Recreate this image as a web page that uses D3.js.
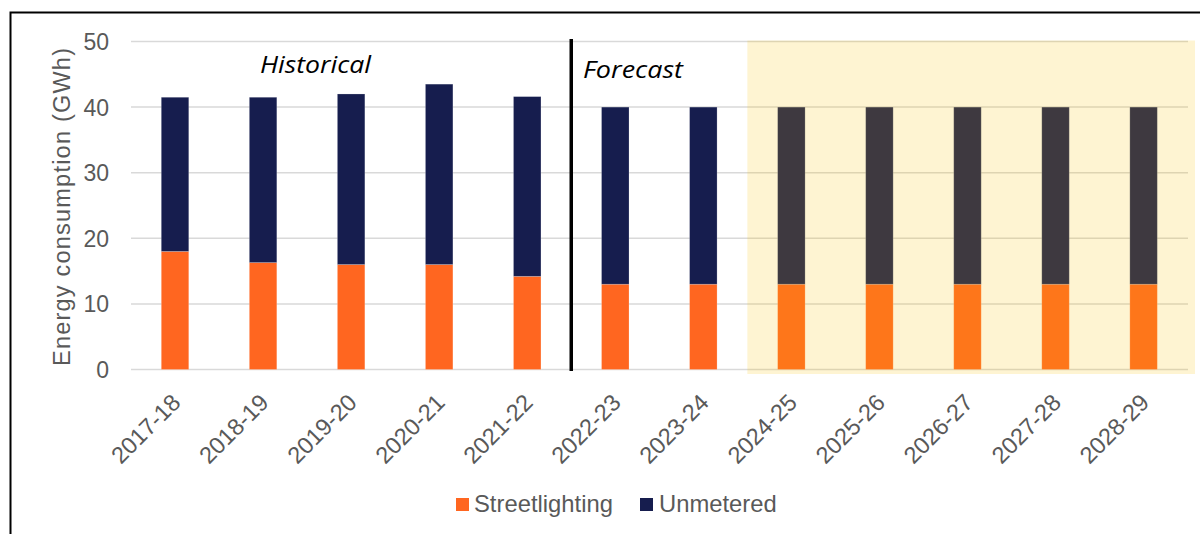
<!DOCTYPE html>
<html>
<head>
<meta charset="utf-8">
<script src="https://cdn.jsdelivr.net/npm/d3@7/dist/d3.min.js"></script>
<style>
  html, body { margin: 0; padding: 0; background: #fff; }
  svg { display: block; }
</style>
</head>
<body>
<svg id="chart" width="1200" height="534"></svg>
<script>
const categories = ["2017-18","2018-19","2019-20","2020-21","2021-22","2022-23","2023-24","2024-25","2025-26","2026-27","2027-28","2028-29"];
const streetlighting = [18.0, 16.3, 16.0, 16.0, 14.2, 13.0, 13.0, 13.0, 13.0, 13.0, 13.0, 13.0];
const unmetered      = [23.5, 25.2, 26.0, 27.5, 27.4, 27.0, 27.0, 27.0, 27.0, 27.0, 27.0, 27.0];
const yTicks = [0, 10, 20, 30, 40, 50];
const seriesNames = ["Streetlighting", "Unmetered"];
const seriesColors = ["#FF6620", "#161D4E"];
const historicalLabel = "Historical";
const forecastLabel = "Forecast";
const forecastStart = "2022-23";
const shadedStart = "2024-25";

const svg = d3.select("#chart");
const font = "'Liberation Sans', Arial, sans-serif";
const textGrey = "#595959";

// frame
svg.append("rect").attr("x", 10.5).attr("y", 12.5).attr("width", 1300).attr("height", 600)
  .attr("fill", "none").attr("stroke", "#000").attr("stroke-width", 2);

const x = d3.scaleBand().domain(categories).range([131, 1187.6]).paddingInner(0.688).paddingOuter(0.344);
const y = d3.scaleLinear().domain([0, 50]).range([369.5, 41.5]);

// gridlines
svg.append("g").selectAll("line").data(yTicks).join("line")
  .attr("x1", 131).attr("x2", 1188)
  .attr("y1", d => y(d)).attr("y2", d => y(d))
  .attr("stroke", "#D9D9D9").attr("stroke-width", 1.5);

// y axis labels
const yAxis = d3.axisLeft(y).tickValues(yTicks).tickSize(0).tickPadding(0);
const gy = svg.append("g").attr("transform", "translate(109,0)").call(yAxis);
gy.select(".domain").remove();
gy.selectAll("text").attr("font-family", font).attr("font-size", 23).attr("fill", textGrey).attr("dy", "0.35em");

// stacked data
const rows = categories.map((c, i) => ({cat: c, Streetlighting: streetlighting[i], Unmetered: unmetered[i]}));
const stack = d3.stack().keys(seriesNames)(rows);

svg.append("g").selectAll("g").data(stack).join("g")
  .attr("fill", (d, i) => seriesColors[i])
  .selectAll("rect").data(d => d).join("rect")
  .attr("x", d => x(d.data.cat))
  .attr("width", x.bandwidth())
  .attr("y", d => y(d[1]))
  .attr("height", d => y(d[0]) - y(d[1]))
  .attr("stroke", "rgba(255,255,255,0.25)").attr("stroke-width", 0.8);

// shaded forecast overlay
const shadeX0 = x(shadedStart) - x.step() * x.paddingInner() / 2;
svg.append("rect")
  .attr("x", shadeX0).attr("y", 40.5)
  .attr("width", 1195 - shadeX0).attr("height", 374 - 40.5)
  .attr("fill", "#F9C000").attr("fill-opacity", 0.175);

// divider line
const divX = x(forecastStart) - x.step() * x.paddingInner() / 2;
svg.append("line").attr("x1", divX).attr("x2", divX).attr("y1", 39).attr("y2", 371)
  .attr("stroke", "#000").attr("stroke-width", 3.5);

// period labels
svg.append("text").attr("x", 260).attr("y", 73).text(historicalLabel)
  .attr("font-family", "'Open Sans', sans-serif").attr("font-style", "italic")
  .attr("font-size", 24.5).attr("fill", "#000")
  .attr("textLength", 111).attr("lengthAdjust", "spacingAndGlyphs");
svg.append("text").attr("x", 583).attr("y", 78).text(forecastLabel)
  .attr("font-family", "'Open Sans', sans-serif").attr("font-style", "italic")
  .attr("font-size", 24.5).attr("fill", "#000")
  .attr("textLength", 100).attr("lengthAdjust", "spacingAndGlyphs");

// x labels
svg.append("g").selectAll("text").data(categories).join("text")
  .attr("transform", d => `translate(${x(d) + x.bandwidth() / 2 + 7},${404}) rotate(-45)`)
  .attr("text-anchor", "end")
  .attr("font-family", font).attr("font-size", 23.5).attr("fill", textGrey)
  .text(d => d);

// y axis title
svg.append("text")
  .attr("transform", "translate(70,207) rotate(-90)")
  .attr("text-anchor", "middle")
  .attr("font-family", font).attr("font-size", 23.5).attr("fill", textGrey)
  .attr("textLength", 318).attr("lengthAdjust", "spacing")
  .text("Energy consumption (GWh)");

// legend
const legendItems = [
  {name: seriesNames[0], color: seriesColors[0], sx: 456, tx: 474},
  {name: seriesNames[1], color: seriesColors[1], sx: 640, tx: 659}
];
const lg = svg.append("g");
lg.selectAll("rect").data(legendItems).join("rect")
  .attr("x", d => d.sx).attr("y", 498).attr("width", 13).attr("height", 13)
  .attr("fill", d => d.color);
lg.selectAll("text").data(legendItems).join("text")
  .attr("x", d => d.tx).attr("y", 512)
  .attr("font-family", font).attr("font-size", 23.8).attr("fill", textGrey)
  .text(d => d.name);
</script>
</body>
</html>
